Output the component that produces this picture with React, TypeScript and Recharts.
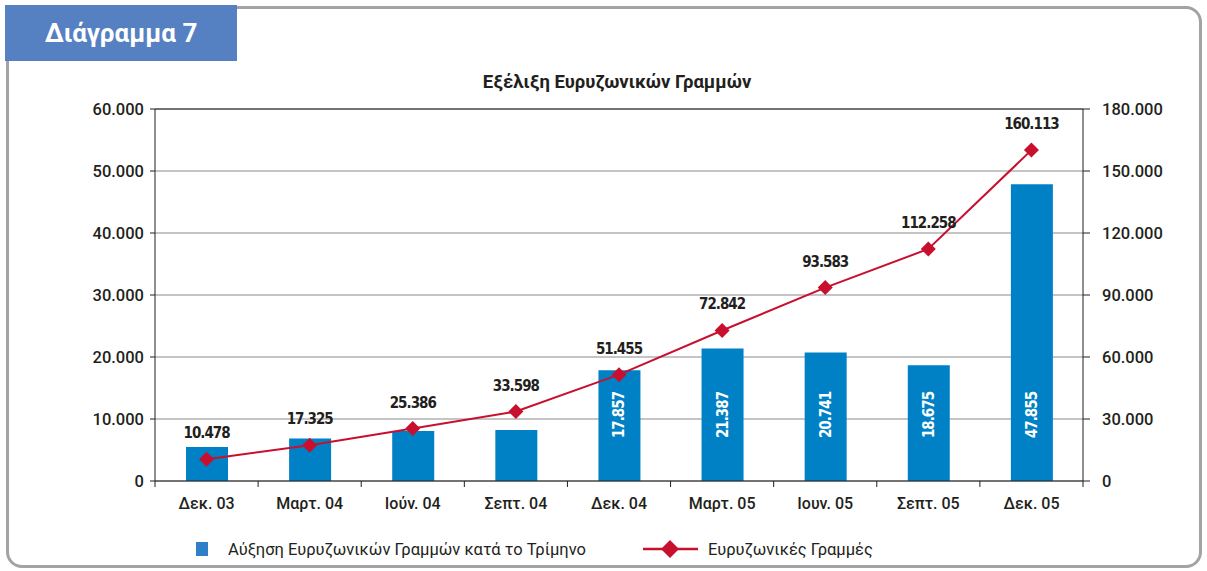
import React from "react"
import {
  ComposedChart,
  Bar,
  Line,
  XAxis,
  YAxis,
  CartesianGrid,
  LabelList,
  ReferenceLine,
} from "recharts"

// τρίμηνα
const quarters = [
  "Δεκ. 03",
  "Μαρτ. 04",
  "Ιούν. 04",
  "Σεπτ. 04",
  "Δεκ. 04",
  "Μαρτ. 05",
  "Ιουν. 05",
  "Σεπτ. 05",
  "Δεκ. 05",
]

// αύξηση ανά τρίμηνο (οι 4 πρώτες εκτιμώνται από την εικόνα)
const quarterlyGrowth = [5500, 6847, 8061, 8212, 17857, 21387, 20741, 18675, 47855]

// σύνολο ευρυζωνικών γραμμών
const totalLines = [10478, 17325, 25386, 33598, 51455, 72842, 93583, 112258, 160113]

const leftTicks = [0, 10000, 20000, 30000, 40000, 50000, 60000]
const rightTicks = [0, 30000, 60000, 90000, 120000, 150000, 180000]

const barName = "Αύξηση Ευρυζωνικών Γραμμών κατά το Τρίμηνο"
const lineName = "Ευρυζωνικές Γραμμές"

const data = quarters.map((q, i) => ({
  q,
  growth: quarterlyGrowth[i],
  total: totalLines[i],
}))

const BLUE = "#0081c6"
const RED = "#c8102e"
const INK = "#231f20"
const PLOT_LEFT = 155
const PLOT_RIGHT = 1083
const PLOT_TOP = 109
const PLOT_BOTTOM = 481
const BAND = (PLOT_RIGHT - PLOT_LEFT) / quarters.length

const axisFont = "Roboto, 'Liberation Sans', sans-serif"
const labelFont = "'DejaVu Sans Condensed', 'Liberation Sans', sans-serif"

// μορφή 10.478
const fmt = (v: number) => Number(v).toLocaleString("de-DE")

const XTick = (props: any) => {
  const { x, y, payload, index } = props
  const bx = x - BAND / 2
  return (
    <g>
      <line x1={bx} x2={bx} y1={y} y2={y + 6} stroke={INK} strokeWidth={1} />
      {index === quarters.length - 1 && (
        <line x1={x + BAND / 2} x2={x + BAND / 2} y1={y} y2={y + 6} stroke={INK} strokeWidth={1} />
      )}
      <text x={x} y={y + 28} textAnchor="middle" fontSize={16} fontWeight={500} fill={INK} fontFamily={axisFont}>
        {payload.value}
      </text>
    </g>
  )
}

const Diamond = (props: any) => {
  const { cx, cy } = props
  if (cx == null || cy == null) return null
  const r = 7.5
  return (
    <polygon
      points={`${cx},${cy - r} ${cx + r},${cy} ${cx},${cy + r} ${cx - r},${cy}`}
      fill={RED}
    />
  )
}

const BarValue = (props: any) => {
  const { x, y, width, height, value, index } = props
  if (index < 4) return null
  const cx = x + width / 2
  const cy = y + height - 66
  return (
    <text
      x={cx}
      y={cy}
      transform={`rotate(-90 ${cx} ${cy})`}
      textAnchor="middle"
      dominantBaseline="central"
      fill="#fff"
      fontSize={15}
      fontWeight={700}
      letterSpacing={-1}
      fontFamily={labelFont}
    >
      {fmt(value)}
    </text>
  )
}

const LineValue = (props: any) => {
  const { x, y, value } = props
  return (
    <text
      x={x}
      y={y - 21}
      textAnchor="middle"
      fill={INK}
      fontSize={15}
      fontWeight={700}
      letterSpacing={-1}
      fontFamily={labelFont}
    >
      {fmt(value)}
    </text>
  )
}

export default function App() {
  return (
    <div
      style={{
        position: "absolute",
        left: 0,
        top: 0,
        width: 1207,
        height: 571,
        background: "#fff",
        fontFamily: axisFont,
        overflow: "hidden",
      }}
    >
      {/* πλαίσιο */}
      <div
        style={{
          position: "absolute",
          left: 6,
          top: 6,
          width: 1190,
          height: 556,
          border: "3px solid #a3a3a3",
          borderRadius: 16,
        }}
      />
      <div
        style={{
          position: "absolute",
          left: 5,
          top: 5,
          width: 232,
          height: 56,
          background: "#5580c2",
          color: "#fff",
          fontSize: 26,
          fontWeight: 700,
          lineHeight: "56px",
          textAlign: "center",
        }}
      >
        Διάγραμμα 7
      </div>
      <div
        style={{
          position: "absolute",
          left: 0,
          width: 1234,
          top: 71,
          textAlign: "center",
          fontSize: 18.5,
          fontWeight: 700,
          color: INK,
        }}
      >
        Εξέλιξη Ευρυζωνικών Γραμμών
      </div>

      <div style={{ position: "absolute", left: 0, top: 0 }}>
        <ComposedChart
          width={1207}
          height={571}
          data={data}
          margin={{ top: PLOT_TOP, right: 1207 - PLOT_RIGHT - 80, bottom: 571 - PLOT_BOTTOM - 30, left: PLOT_LEFT - 80 }}
        >
          <CartesianGrid vertical={false} stroke="#8a8a8a" yAxisId="left" />
          <XAxis
            dataKey="q"
            height={30}
            tick={<XTick />}
            tickLine={false}
            tickSize={0}
            tickMargin={0}
            axisLine={{ stroke: INK }}
            interval={0}
          />
          <YAxis
            yAxisId="left"
            width={80}
            domain={[0, 60000]}
            ticks={leftTicks}
            tickFormatter={fmt}
            tickSize={5}
            tickMargin={6}
            axisLine={{ stroke: INK }}
            tickLine={{ stroke: INK }}
            tick={{ fontSize: 16.5, fontWeight: 500, fill: INK, fontFamily: axisFont }}
          />
          <YAxis
            yAxisId="right"
            orientation="right"
            width={80}
            domain={[0, 180000]}
            ticks={rightTicks}
            tickFormatter={fmt}
            tickSize={7}
            tickMargin={12}
            axisLine={{ stroke: INK }}
            tickLine={{ stroke: INK }}
            tick={{ fontSize: 16.5, fontWeight: 500, fill: INK, fontFamily: axisFont, textAnchor: "start" }}
          />
          <ReferenceLine yAxisId="left" y={60000} stroke={INK} />
          <Bar
            yAxisId="left"
            dataKey="growth"
            name={barName}
            fill={BLUE}
            barSize={42}
            isAnimationActive={false}
          >
            <LabelList dataKey="growth" content={<BarValue />} />
          </Bar>
          <Line
            yAxisId="right"
            dataKey="total"
            name={lineName}
            stroke={RED}
            strokeWidth={2}
            dot={<Diamond />}
            activeDot={false}
            isAnimationActive={false}
          >
            <LabelList dataKey="total" content={<LineValue />} />
          </Line>
        </ComposedChart>
      </div>

      {/* υπόμνημα */}
      <div
        style={{
          position: "absolute",
          top: 538,
          left: 0,
          height: 22,
          display: "flex",
          alignItems: "center",
          fontSize: 16.5,
          color: INK,
        }}
      >
        <div style={{ position: "absolute", left: 196, width: 12, height: 14, background: "#2f7fc8" }} />
        <div style={{ position: "absolute", left: 228, whiteSpace: "nowrap" }}>{barName}</div>
        <svg style={{ position: "absolute", left: 643, top: 0 }} width={56} height={22}>
          <line x1={0} x2={55} y1={11} y2={11} stroke={RED} strokeWidth={2.5} />
          <polygon points="27,2 36,11 27,20 18,11" fill={RED} />
        </svg>
        <div style={{ position: "absolute", left: 708, whiteSpace: "nowrap" }}>{lineName}</div>
      </div>
    </div>
  )
}
